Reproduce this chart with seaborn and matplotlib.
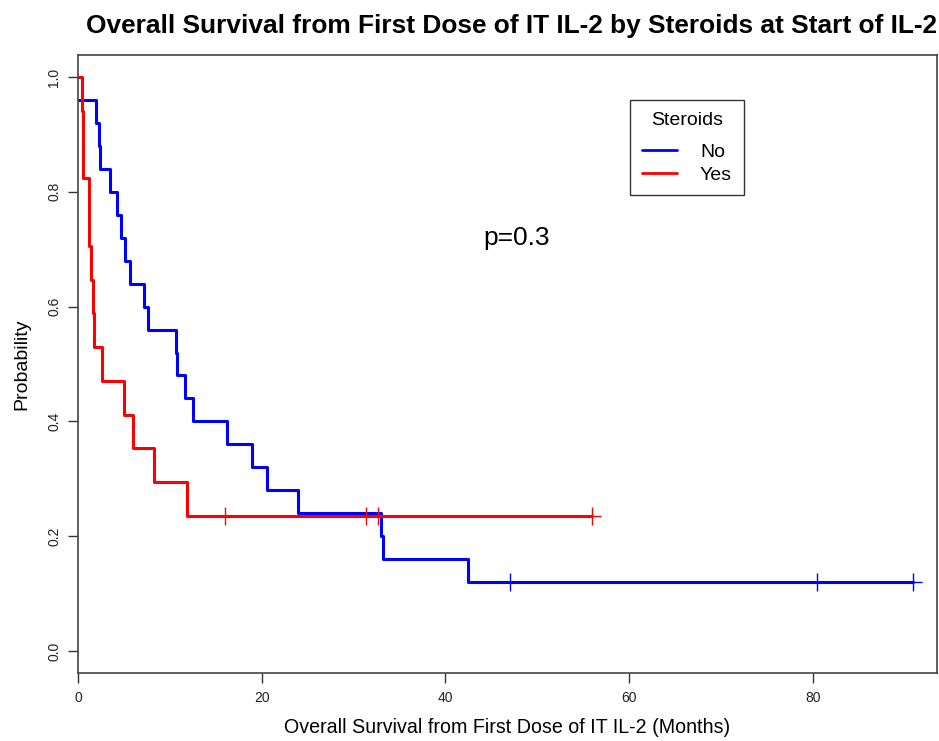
import matplotlib
matplotlib.use("Agg")
import matplotlib.pyplot as plt
import seaborn as sns
import pandas as pd
from matplotlib.lines import Line2D

# Kaplan-Meier step data
no_times = [0.0, 1.96, 2.25, 2.43, 3.51, 4.21, 4.71, 5.11, 5.63, 7.15, 7.65,
            10.7, 10.75, 11.7, 12.5, 16.2, 18.9, 20.6, 24.0, 33.0, 33.2, 42.5, 90.9]
no_surv = [0.96, 0.92, 0.88, 0.84, 0.80, 0.76, 0.72, 0.68, 0.64, 0.60, 0.56,
           0.52, 0.48, 0.44, 0.40, 0.36, 0.32, 0.28, 0.24, 0.20, 0.16, 0.12, 0.12]
no_cens_t = [47.0, 80.4, 90.9]
no_cens_s = [0.12, 0.12, 0.12]

yes_times = [0.0, 0.40, 0.51, 1.23, 1.41, 1.60, 1.74, 2.64, 5.04, 6.02, 8.24, 11.83, 56.0]
yes_surv = [1.0, 0.941, 0.824, 0.706, 0.647, 0.588, 0.529, 0.471, 0.412, 0.353, 0.294,
            0.235, 0.235]
yes_cens_t = [16.0, 31.3, 32.7, 56.0]
yes_cens_s = [0.235, 0.235, 0.235, 0.235]

groups = ["No", "Yes"]
colors = {"No": "#0000FF", "Yes": "#FF0000"}
xticks = [0, 20, 40, 60, 80]
yticks = [0.0, 0.2, 0.4, 0.6, 0.8, 1.0]

df_no = pd.DataFrame({"time": no_times, "surv": no_surv, "group": "No"})
df_yes = pd.DataFrame({"time": yes_times, "surv": yes_surv, "group": "Yes"})
cens = pd.concat([
    pd.DataFrame({"time": no_cens_t, "surv": no_cens_s, "group": "No"}),
    pd.DataFrame({"time": yes_cens_t, "surv": yes_cens_s, "group": "Yes"}),
])

sns.set_style("white")
plt.rcParams["font.family"] = ["Liberation Sans", "DejaVu Sans"]
plt.rcParams["text.color"] = "black"
plt.rcParams["axes.labelcolor"] = "black"

fig = plt.figure(figsize=(9.39, 7.41), dpi=100)
ax = fig.add_axes([78 / 939, (741 - 673) / 741, (937 - 78) / 939, (673 - 55) / 741])

for d in (df_no, df_yes):
    g = d["group"].iloc[0]
    sns.lineplot(data=d, x="time", y="surv", ax=ax, color=colors[g], linewidth=2.2,
                 drawstyle="steps-post", estimator=None, sort=False, legend=False)

for g in groups:
    c = cens[cens["group"] == g]
    sns.scatterplot(data=c, x="time", y="surv", ax=ax, marker="+", s=150,
                    color=colors[g], linewidth=1.0, legend=False, zorder=3)

ax.set_xlim(0, 93.5)
ax.set_ylim(-0.0383, 1.0383)
ax.set_xticks(xticks)
ax.set_xticklabels([str(t) for t in xticks], fontsize=10, color="#222222")
ax.set_yticks(yticks)
ax.set_yticklabels([f"{t:.1f}" for t in yticks], fontsize=10, color="#222222",
                   rotation=90, va="center")
ax.tick_params(axis="both", direction="out", length=7, width=1, color="#333333",
               bottom=True, left=True)
ax.tick_params(axis="x", pad=6)
ax.tick_params(axis="y", pad=5)
for sp in ax.spines.values():
    sp.set_color("#444444")
    sp.set_linewidth(1.2)

ax.set_xlabel("Overall Survival from First Dose of IT IL-2 (Months)", fontsize=14.1,
              labelpad=9)
ax.set_ylabel("Probability", fontsize=14, labelpad=12)

fig.text(511 / 939, 1 - 26 / 741,
         "Overall Survival from First Dose of IT IL-2 by Steroids at Start of IL-2",
         ha="center", va="center", fontsize=18.9, fontweight="bold")

ax.text(47.7, 0.72, "p=0.3", fontsize=19, ha="center", va="center")

handles = [Line2D([0], [0], color=colors[g], lw=2) for g in groups]
leg = ax.legend(handles, groups, title="Steroids", loc="upper left",
                bbox_to_anchor=((630 - 78) / 859, (673 - 100) / 618),
                borderaxespad=0, fontsize=14, title_fontsize=14,
                frameon=True, fancybox=False, handlelength=1.8, handletextpad=1.2,
                borderpad=0.6, labelspacing=0.25)
leg._legend_box.sep = 10.8
leg.get_frame().set_edgecolor("black")
leg.get_frame().set_linewidth(1.0)

fig.savefig("out.png", dpi=100)
